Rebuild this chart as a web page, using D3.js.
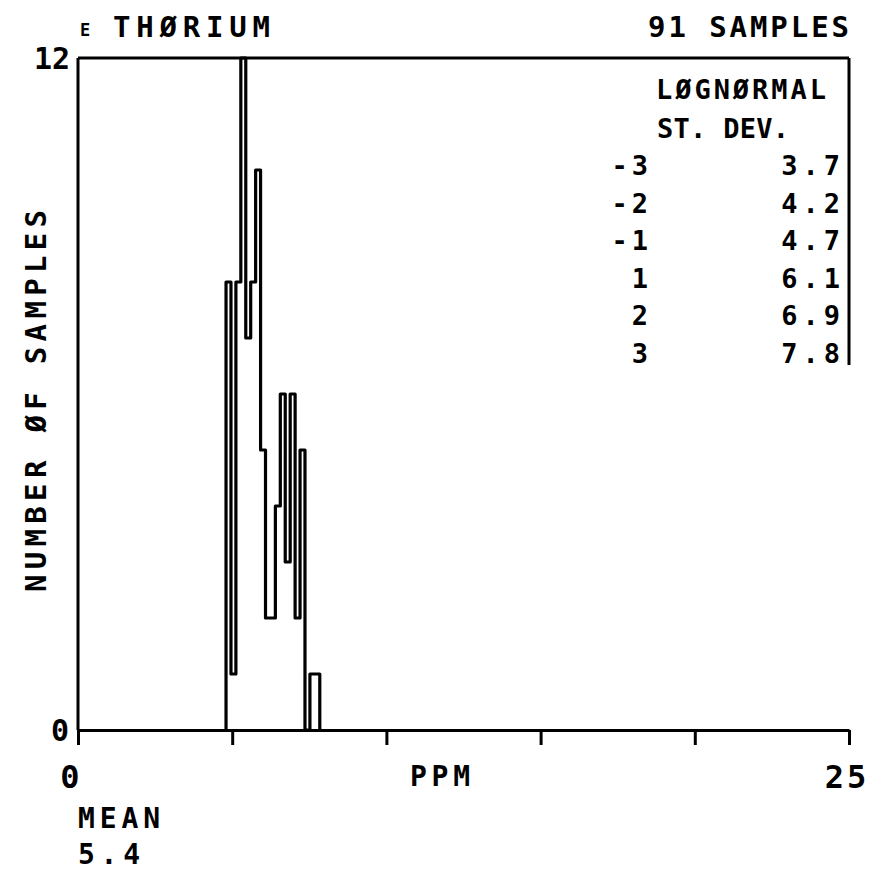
<!DOCTYPE html>
<html>
<head>
<meta charset="utf-8">
<script src="https://cdn.jsdelivr.net/npm/d3@7"></script>
<style>
  html, body { margin: 0; padding: 0; background: #fff; }
  text { font-family: "DejaVu Sans Mono", monospace; fill: #000; font-weight: bold; }
</style>
</head>
<body>
<svg id="chart" width="872" height="875"></svg>
<script>
// ---- data ----
const binEdges = [4.80, 4.96, 5.12, 5.28, 5.44, 5.60, 5.76, 5.92, 6.08, 6.24,
                  6.40, 6.56, 6.72, 6.88, 7.04, 7.20, 7.36, 7.52, 7.68, 7.84];
const counts   = [8, 1, 8, 12, 7, 8, 10, 5, 2, 2, 4, 6, 3, 6, 2, 5, 0, 1, 1];
const xTicks = [0, 5, 10, 15, 20, 25];
const yTickLabels = [0, 12];
const legendSigma = ["-3", "-2", "-1", "1", "2", "3"];
const legendValue = ["3.7", "4.2", "4.7", "6.1", "6.9", "7.8"];
const title = "THØRIUM";
const sampleLabel = "91 SAMPLES";
const meanValue = "5.4";

// ---- layout ----
const svg = d3.select("#chart");
const x = d3.scaleLinear().domain([0, 25]).range([78, 849]);
const y = d3.scaleLinear().domain([0, 12]).range([730, 58]);
const SW = 3;

// frame: top, left, partial right
svg.append("line").attr("x1", x(0)).attr("x2", x(25)).attr("y1", y(12)).attr("y2", y(12))
  .attr("stroke", "#000").attr("stroke-width", SW);
svg.append("line").attr("x1", x(0)).attr("x2", x(0)).attr("y1", y(12)).attr("y2", y(0))
  .attr("stroke", "#000").attr("stroke-width", SW);
svg.append("line").attr("x1", x(25)).attr("x2", x(25)).attr("y1", y(12)).attr("y2", 365)
  .attr("stroke", "#000").attr("stroke-width", SW);

// x axis
const xAxis = d3.axisBottom(x).tickValues(xTicks).tickSize(15).tickSizeOuter(0).tickFormat("");
const gx = svg.append("g").attr("transform", `translate(0,${y(0)})`).call(xAxis);
gx.select(".domain").attr("stroke-width", SW);
gx.selectAll(".tick line").attr("stroke-width", SW);

// histogram step outline
const pts = [[binEdges[0], 0]];
counts.forEach((c, i) => { pts.push([binEdges[i], c]); pts.push([binEdges[i + 1], c]); });
pts.push([binEdges[binEdges.length - 1], 0]);
const line = d3.line().x(d => x(d[0])).y(d => y(d[1]));
svg.append("path").attr("d", line(pts)).attr("fill", "none")
  .attr("stroke", "#000").attr("stroke-width", 3.2).attr("stroke-linejoin", "round");

// y tick labels
svg.append("text").attr("x", 70).attr("y", y(12) + 11).attr("text-anchor", "end")
  .attr("font-size", 30).text(yTickLabels[1]);
svg.append("text").attr("x", 69).attr("y", y(0) + 11).attr("text-anchor", "end")
  .attr("font-size", 30).text(yTickLabels[0]);

// x tick labels
svg.append("text").attr("x", x(0) - 8).attr("y", 788).attr("text-anchor", "middle")
  .attr("font-size", 32).text(xTicks[0]);
svg.append("text").attr("x", x(25) - 2).attr("y", 788).attr("text-anchor", "middle")
  .attr("font-size", 32).attr("letter-spacing", 3).text(xTicks[xTicks.length - 1]);
svg.append("text").attr("x", 410).attr("y", 786).attr("font-size", 28)
  .attr("textLength", 60).attr("lengthAdjust", "spacing").text("PPM");

// mean
svg.append("text").attr("x", 78).attr("y", 828).attr("font-size", 28)
  .attr("textLength", 82).attr("lengthAdjust", "spacing").text("MEAN");
svg.append("text").attr("x", 78).attr("y", 864).attr("font-size", 28)
  .attr("textLength", 62).attr("lengthAdjust", "spacing").text(meanValue);

// title
svg.append("text").attr("x", 80).attr("y", 36).attr("font-size", 17).text("E");
svg.append("text").attr("x", 113).attr("y", 37).attr("font-size", 29)
  .attr("textLength", 157).attr("lengthAdjust", "spacing").text(title);
svg.append("text").attr("x", 648).attr("y", 37).attr("font-size", 29)
  .attr("textLength", 201).attr("lengthAdjust", "spacing").text(sampleLabel);

// y axis title
svg.append("text").attr("transform", "translate(46,592) rotate(-90)")
  .attr("font-size", 29).attr("textLength", 382).attr("lengthAdjust", "spacing")
  .text("NUMBER ØF SAMPLES");

// legend
svg.append("text").attr("x", 656).attr("y", 99).attr("font-size", 27)
  .attr("textLength", 170).attr("lengthAdjust", "spacing").text("LØGNØRMAL");
svg.append("text").attr("x", 657).attr("y", 138).attr("font-size", 27)
  .attr("textLength", 132).attr("lengthAdjust", "spacing").text("ST. DEV.");
const rowY = d3.scalePoint().domain(legendSigma).range([175, 363]);
legendSigma.forEach((s, i) => {
  svg.append("text").attr("x", 652).attr("y", rowY(s)).attr("text-anchor", "end")
    .attr("font-size", 27).attr("letter-spacing", 4).text(s);
  svg.append("text").attr("x", 845).attr("y", rowY(s)).attr("text-anchor", "end")
    .attr("font-size", 27).attr("letter-spacing", 5).text(legendValue[i]);
});
</script>
</body>
</html>
